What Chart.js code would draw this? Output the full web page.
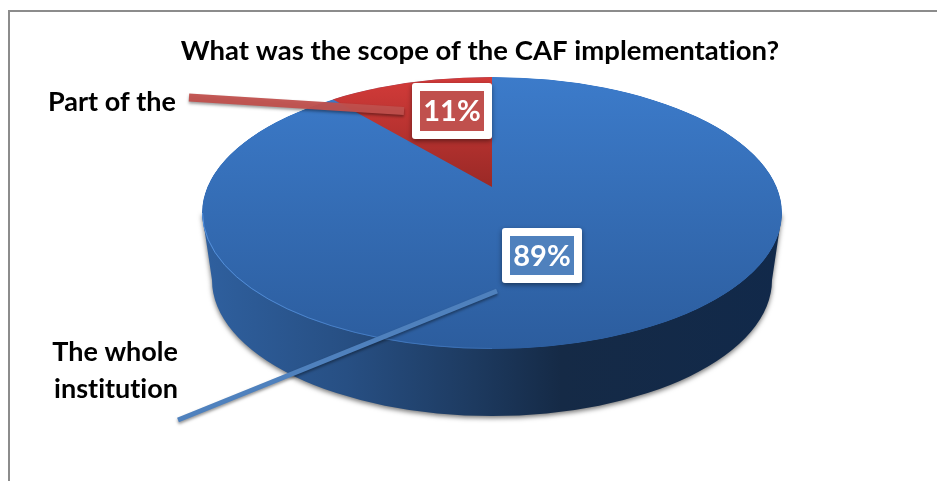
<!DOCTYPE html>
<html>
<head>
<meta charset="utf-8">
<title>CAF scope</title>
<script src="https://cdn.jsdelivr.net/npm/chart.js@4"></script>
<style>
  html, body { margin: 0; padding: 0; background: #fff; }
  #wrap { position: relative; width: 937px; height: 481px; overflow: hidden; }
  #frame { position: absolute; left: 8px; top: 10px; width: 2000px; height: 2000px; border: 2px solid #8c8c8c; box-sizing: border-box; }
  canvas { position: absolute; left: 0; top: 0; }
</style>
</head>
<body>
<div id="wrap">
  <div id="frame"></div>
  <canvas id="pieCanvas" width="937" height="481"></canvas>
</div>
<script>
// datos
const categories = ['Part of the', 'The whole institution'];
const shares = [11, 89];
const shareLabels = ['11%', '89%'];
const chartTitle = 'What was the scope of the CAF implementation?';

const FONT = 'Lato, "Open Sans", sans-serif';
const RED = '#c0504d';
const BLUE = '#4f81bd';

// geometria de la tarta en perspectiva
const TOP_FACE = { cx: 492, cy: 213, k: 136 / 290 };
const FLOOR = { cx: 492, cy: 280, rx: 280, ry: 136 };
const WEDGE = { cy: 187, k: 0.455 };

function faceGradient(c) {
    const area = c.chart.chartArea;
    if (!area) return c.dataIndex === 0 ? RED : BLUE;
    const midY = (area.top + area.bottom) / 2;
    const ctx = c.chart.ctx;
    if (c.dataIndex === 0) {
        const g = ctx.createLinearGradient(0, midY - 110 / WEDGE.k, 0, midY);
        g.addColorStop(0, '#d33b39');
        g.addColorStop(1, '#9a2926');
        return g;
    }
    const g = ctx.createLinearGradient(0, midY - 290, 0, midY + 290);
    g.addColorStop(0, '#3c7bca');
    g.addColorStop(1, '#2c5d9e');
    return g;
}

function drawWall(ctx) {
    const g = ctx.createLinearGradient(202, 0, 782, 0);
    g.addColorStop(0, '#2f609f');
    g.addColorStop(0.25, '#274f83');
    g.addColorStop(0.45, '#1e3c63');
    g.addColorStop(0.62, '#152a46');
    g.addColorStop(1, '#11294a');
    ctx.save();
    ctx.shadowColor = 'rgba(0,0,0,0.55)';
    ctx.shadowBlur = 5;
    ctx.shadowOffsetY = 2;
    ctx.fillStyle = g;
    ctx.beginPath();
    ctx.moveTo(TOP_FACE.cx - 290, TOP_FACE.cy);
    ctx.lineTo(FLOOR.cx - FLOOR.rx, FLOOR.cy);
    ctx.ellipse(FLOOR.cx, FLOOR.cy, FLOOR.rx, FLOOR.ry, 0, Math.PI, 0, true);
    ctx.lineTo(TOP_FACE.cx + 290, TOP_FACE.cy);
    ctx.closePath();
    ctx.fill();
    ctx.restore();
}

function drawLeader(ctx, x1, y1, x2, y2, width, color) {
    ctx.save();
    ctx.shadowColor = 'rgba(0,0,0,0.4)';
    ctx.shadowBlur = 3;
    ctx.shadowOffsetY = 2;
    ctx.strokeStyle = color;
    ctx.lineWidth = width;
    ctx.beginPath();
    ctx.moveTo(x1, y1);
    ctx.lineTo(x2, y2);
    ctx.stroke();
    ctx.restore();
}

function drawBadge(ctx, text, x, y, w, h, color) {
    ctx.save();
    ctx.shadowColor = 'rgba(0,0,0,0.45)';
    ctx.shadowBlur = 5;
    ctx.shadowOffsetY = 2;
    ctx.fillStyle = '#fff';
    ctx.beginPath();
    ctx.roundRect(x, y, w, h, 3);
    ctx.fill();
    ctx.restore();
    ctx.fillStyle = color;
    ctx.fillRect(x + 8, y + 8, w - 16, h - 16);
    ctx.fillStyle = '#fff';
    ctx.font = 'bold 29px ' + FONT;
    ctx.textAlign = 'center';
    ctx.textBaseline = 'middle';
    ctx.fillText(text, x + w / 2, y + h / 2 + 1);
}

const pie3d = {
    id: 'pie3d',
    beforeDraw(chart) {
        // sin ligaduras "ti" de Lato
        chart.ctx.letterSpacing = '0.01px';
    },
    beforeDatasetsDraw(chart) {
        const ctx = chart.ctx;
        const [red, blue] = chart.getDatasetMeta(0).data;
        const R = blue.outerRadius;

        drawWall(ctx);

        // cara superior
        ctx.save();
        ctx.beginPath();
        ctx.ellipse(TOP_FACE.cx, TOP_FACE.cy, R, R * TOP_FACE.k, 0, 0, Math.PI * 2);
        ctx.clip();

        ctx.save();
        ctx.translate(TOP_FACE.cx, TOP_FACE.cy);
        ctx.scale(1, TOP_FACE.k);
        ctx.translate(-blue.x, -blue.y);
        ctx.fillStyle = blue.options.backgroundColor;
        ctx.beginPath();
        ctx.arc(blue.x, blue.y, R, 0, Math.PI * 2);
        ctx.fill();
        blue.draw(ctx);
        ctx.restore();

        // la cuna roja tiene su vertice mas arriba por la perspectiva
        ctx.save();
        ctx.translate(TOP_FACE.cx, WEDGE.cy);
        ctx.scale(1, WEDGE.k);
        ctx.translate(-red.x, -red.y);
        red.draw(ctx);
        ctx.restore();
        ctx.restore();

        // filo claro abajo a la izquierda
        const rim = ctx.createLinearGradient(202, 0, 600, 0);
        rim.addColorStop(0, 'rgba(90,150,225,0.9)');
        rim.addColorStop(1, 'rgba(90,150,225,0)');
        ctx.strokeStyle = rim;
        ctx.lineWidth = 1;
        ctx.beginPath();
        ctx.ellipse(TOP_FACE.cx, TOP_FACE.cy, R - 0.5, R * TOP_FACE.k - 0.5, 0, Math.PI / 2, Math.PI);
        ctx.stroke();

        return false;
    },
    afterDraw(chart) {
        const ctx = chart.ctx;
        drawLeader(ctx, 189, 97.5, 404, 111, 8, 'rgba(192,80,77,0.95)');
        drawLeader(ctx, 178, 420, 497, 291, 5, BLUE);

        drawBadge(ctx, shareLabels[0], 412, 83, 80, 56, RED);
        drawBadge(ctx, shareLabels[1], 502, 228, 80, 55, BLUE);

        ctx.fillStyle = '#000';
        ctx.font = 'bold 27px ' + FONT;
        ctx.textBaseline = 'middle';
        ctx.textAlign = 'left';
        ctx.fillText(categories[0], 48, 102);
        const words = categories[1].split(' ');
        ctx.textAlign = 'right';
        ctx.fillText(words.slice(0, 2).join(' '), 178, 352);
        ctx.fillText(words[2], 178, 389);
    }
};

new Chart(document.getElementById('pieCanvas'), {
    type: 'pie',
    data: {
        labels: categories,
        datasets: [{
            data: shares,
            backgroundColor: faceGradient,
            borderWidth: 0,
            radius: 290
        }]
    },
    options: {
        responsive: false,
        animation: false,
        rotation: -shares[0] * 3.6,
        layout: { padding: { left: 23 } },
        plugins: {
            legend: { display: false },
            tooltip: { enabled: false },
            title: {
                display: true,
                text: chartTitle,
                color: '#000',
                font: { family: FONT, size: 27.5, weight: 'bold' },
                padding: { top: 35, bottom: 10 }
            }
        }
    },
    plugins: [pie3d]
});
</script>
</body>
</html>
